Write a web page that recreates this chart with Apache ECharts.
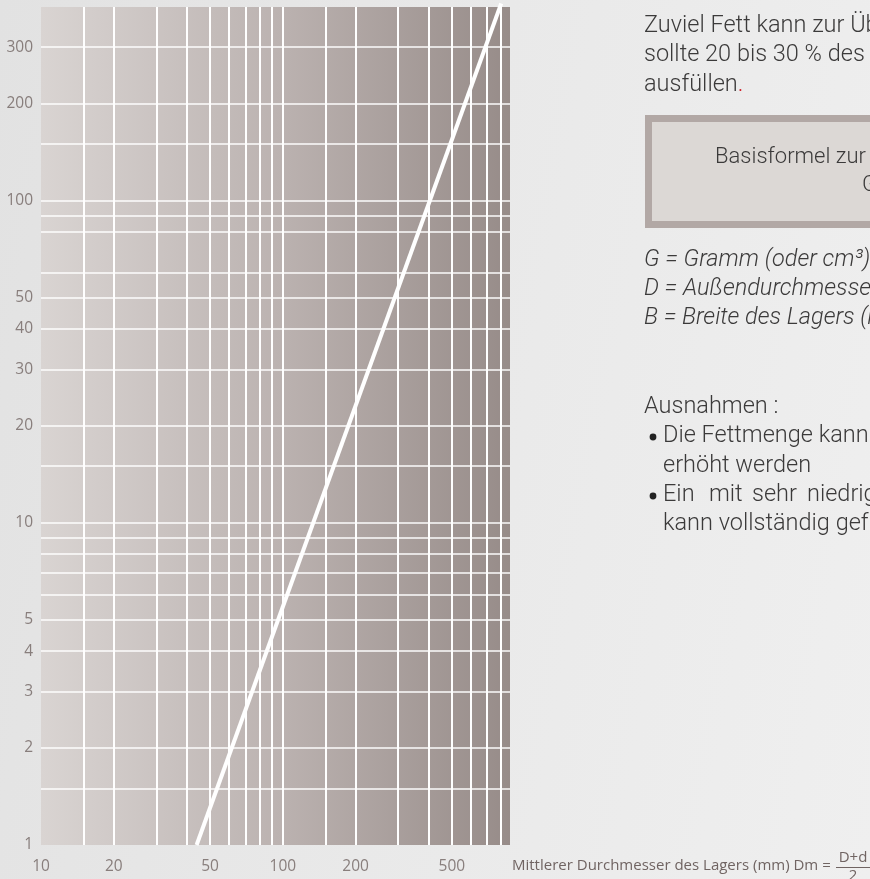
<!DOCTYPE html>
<html>
<head>
<meta charset="utf-8">
<script src="https://cdn.jsdelivr.net/npm/echarts@6/dist/echarts.min.js"></script>
<style>
html,body{margin:0;padding:0;width:870px;height:879px;overflow:hidden;background:linear-gradient(100deg,#e2e2e2 0%,#e9e9e9 50%,#efefef 100%);}
#c{width:870px;height:879px;}
</style>
</head>
<body>
<div id="c"></div>
<script>
// vertical grid positions (mm)
const xGrid = [15, 20, 30, 40, 50, 60, 70, 80, 90, 100, 150, 200, 300, 400, 500, 600, 700, 800];
// horizontal grid positions (g)
const yGrid = [1.5, 2, 3, 4, 5, 6, 7, 8, 9, 10, 15, 20, 30, 40, 50, 60, 80, 90, 100, 150, 200, 300];
// tick labels
const xTickLabels = [10, 20, 50, 100, 200, 500];
const yTickLabels = [1, 2, 3, 4, 5, 10, 20, 30, 40, 50, 100, 200, 300];
// the grease-quantity line (endpoints)
const lineX = [44, 800];
const lineY = [1, 410];

const labelColor = '#706462';
const labelFont = '"Open Sans", "Noto Sans", sans-serif';
const textFont = 'Roboto, "Liberation Sans", sans-serif';
const textColor = '#3b3a3a';
const textSize = 23.5;

const chart = echarts.init(document.getElementById('c'), null, {renderer: 'canvas'});

const lineData = lineX.map((x, i) => [x, lineY[i]]);

function txt(text, x, y, extra) {
  return {
    type: 'text', silent: true,
    style: Object.assign({
      text: text, x: x, y: y, fill: textColor,
      fontSize: textSize, fontFamily: textFont, fontWeight: 300,
      verticalAlign: 'middle', align: 'left'
    }, extra || {})
  };
}

const option = {
  animation: false,
  backgroundColor: 'transparent',
  grid: {
    left: 41, top: 7, width: 469, height: 838,
    show: true, borderWidth: 0,
    backgroundColor: new echarts.graphic.LinearGradient(0, 0, 1, 0, [
      {offset: 0, color: '#d9d4d2'},
      {offset: 0.5, color: '#bcb3b1'},
      {offset: 1, color: '#978c89'}
    ])
  },
  xAxis: {
    type: 'log', logBase: 10, min: 10, max: 870,
    axisLine: {show: false}, axisTick: {show: false},
    axisLabel: {show: false}, splitLine: {show: false}
  },
  yAxis: {
    type: 'log', logBase: 10, min: 1, max: 400,
    axisLine: {show: false}, axisTick: {show: false},
    axisLabel: {show: false}, splitLine: {show: false}
  },
  series: [
    {
      type: 'line', silent: true, data: [], z: 1,
      markLine: {
        silent: true, symbol: 'none', animation: false,
        label: {show: false},
        lineStyle: {color: 'rgba(255,255,255,0.72)', width: 2, type: 'solid'},
        data: yGrid.map(v => ({yAxis: v}))
      }
    },
    {
      type: 'line', silent: true, data: [], z: 2,
      markLine: {
        silent: true, symbol: 'none', animation: false,
        label: {show: false},
        lineStyle: {color: '#ffffff', width: 2, type: 'solid'},
        data: xGrid.map(v => ({xAxis: v}))
      }
    },
    {
      type: 'line', silent: true, z: 5, clip: false,
      data: lineData, symbol: 'none',
      lineStyle: {color: '#ffffff', width: 4, cap: 'butt'}
    },
    {
      type: 'scatter', silent: true, clip: false, symbolSize: 0,
      data: xTickLabels.map(v => [v, 1]),
      label: {
        show: true, position: 'bottom', distance: 14,
        formatter: p => String(p.value[0]),
        color: labelColor, fontSize: 15.5, fontFamily: labelFont
      }
    },
    {
      type: 'scatter', silent: true, clip: false, symbolSize: 0,
      data: yTickLabels.map(v => [10, v]),
      label: {
        show: true, position: 'left', distance: 8,
        formatter: p => String(p.value[1]),
        color: labelColor, fontSize: 15.5, fontFamily: labelFont
      }
    }
  ],
  graphic: [
    txt('Zuviel Fett kann zur Überhitzung führen. Das Fett', 644, 26),
    txt('sollte 20 bis 30 % des freien Raumes im Lager', 644, 55),
    {
      type: 'text', silent: true,
      style: {
        text: '{a|ausfüllen}{r|.}', x: 644, y: 85, verticalAlign: 'middle',
        rich: {
          a: {fill: textColor, fontSize: textSize, fontFamily: textFont, fontWeight: 300},
          r: {fill: '#d0202a', fontSize: textSize, fontFamily: textFont, fontWeight: 300}
        }
      }
    },
    {
      type: 'rect', silent: true,
      shape: {x: 648.5, y: 118.5, width: 400, height: 106},
      style: {fill: '#dcd8d5', stroke: '#b2a8a5', lineWidth: 7}
    },
    txt('Basisformel zur Berechnung der Fettmenge', 715, 157, {fontSize: 22}),
    txt('G = 0,005 × D × B', 862, 185, {fontSize: 22}),
    txt('G = Gramm (oder cm³)', 644, 260, {fontStyle: 'italic'}),
    txt('D = Außendurchmesser des Lagers (mm)', 644, 289, {fontStyle: 'italic'}),
    txt('B = Breite des Lagers (mm)', 644, 318, {fontStyle: 'italic'}),
    txt('Ausnahmen :', 644, 407),
    {type: 'circle', silent: true, shape: {cx: 653, cy: 437, r: 3.4}, style: {fill: '#222'}},
    txt('Die Fettmenge kann bei hohen Drehzahlen', 663, 436),
    txt('erhöht werden', 663, 466),
    {type: 'circle', silent: true, shape: {cx: 653, cy: 496, r: 3.4}, style: {fill: '#222'}},
    txt('Ein', 663, 495),
    txt('mit', 709, 495),
    txt('sehr', 752, 495),
    txt('niedriger Drehzahl laufendes Lager', 807, 495),
    txt('kann vollständig gefüllt werden', 663, 524),
    {
      type: 'text', silent: true,
      style: {text: 'Mittlerer Durchmesser des Lagers (mm) Dm =', x: 512, y: 866,
        fill: labelColor, fontSize: 15, fontFamily: labelFont, verticalAlign: 'middle'}
    },
    {
      type: 'text', silent: true,
      style: {text: 'D+d', x: 853, y: 858, align: 'center',
        fill: labelColor, fontSize: 15, fontFamily: labelFont, verticalAlign: 'middle'}
    },
    {
      type: 'line', silent: true,
      shape: {x1: 836, y1: 867.5, x2: 870, y2: 867.5},
      style: {stroke: labelColor, lineWidth: 1}
    },
    {
      type: 'text', silent: true,
      style: {text: '2', x: 853, y: 876, align: 'center',
        fill: labelColor, fontSize: 15, fontFamily: labelFont, verticalAlign: 'middle'}
    }
  ]
};
chart.setOption(option);
</script>
</body>
</html>
